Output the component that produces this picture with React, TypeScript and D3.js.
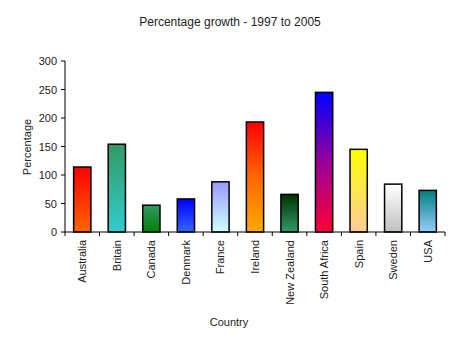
import React from "react";
import * as d3 from "d3";

const categories = ["Australia", "Britain", "Canada", "Denmark", "France", "Ireland", "New Zealand", "South Africa", "Spain", "Sweden", "USA"];
const growth = [114, 154, 47, 58, 88, 193, 66, 245, 145, 84, 73];
const yTicks = [0, 50, 100, 150, 200, 250, 300];
const gradientTops = ["#ff0000", "#339966", "#339966", "#0000ff", "#9999ff", "#ff0000", "#003300", "#0000ff", "#ffff00", "#ffffff", "#008080"];
const gradientMids = [null, null, null, null, null, "#ff6600", null, "#990099", null, null, null];
const gradientBottoms = ["#ff6600", "#33cccc", "#008000", "#3366ff", "#ccffff", "#ffaa00", "#339966", "#ff0033", "#ffcc99", "#c0c0c0", "#99ccff"];

const W = 460, H = 345;
const left = 65, right = 445, top = 61, bottom = 232;

export default function App() {
  const x = d3.scaleBand<string>().domain(categories).range([left, right]).paddingInner(0.5).paddingOuter(0.25);
  const y = d3.scaleLinear().domain([0, 300]).range([bottom, top]);
  const step = x.step();
  const font = "'Liberation Sans', Arial, sans-serif";
  return (
    <svg width={W} height={H} style={{ position: "absolute", left: 0, top: 0 }} fontFamily={font}>
      <defs>
        {categories.map((c, i) => (
          <linearGradient key={c} id={`g${i}`} x1="0" y1="0" x2="0" y2="1">
            <stop offset="0%" stopColor={gradientTops[i]} />
            {gradientMids[i] && <stop offset="50%" stopColor={gradientMids[i] as string} />}
            <stop offset="100%" stopColor={gradientBottoms[i]} />
          </linearGradient>
        ))}
      </defs>
      <rect width={W} height={H} fill="#fff" />
      <text x={230} y={26} textAnchor="middle" fontSize={12} fill="#222">Percentage growth - 1997 to 2005</text>
      {categories.map((c, i) => (
        <rect key={c} x={x(c)!} y={y(growth[i])} width={x.bandwidth()} height={bottom - y(growth[i])}
          fill={`url(#g${i})`} stroke="#000" strokeWidth={1.5} />
      ))}
      <line x1={left} x2={left} y1={top} y2={bottom} stroke="#000" />
      <line x1={left} x2={right} y1={bottom} y2={bottom} stroke="#000" />
      {yTicks.map(t => (
        <g key={t}>
          <line x1={left - 4} x2={left} y1={y(t)} y2={y(t)} stroke="#000" />
          <text x={left - 8} y={y(t) + 4} textAnchor="end" fontSize={11} fill="#222">{t}</text>
        </g>
      ))}
      {d3.range(categories.length + 1).map(i => (
        <line key={i} x1={left + i * step} x2={left + i * step} y1={bottom} y2={bottom + 4} stroke="#000" />
      ))}
      {categories.map(c => {
        const cx = x(c)! + x.bandwidth() / 2;
        return (
          <text key={c} transform={`translate(${cx + 4},240) rotate(-90)`} textAnchor="end" fontSize={11} fill="#222">{c}</text>
        );
      })}
      <text transform="translate(31,147) rotate(-90)" textAnchor="middle" fontSize={11} fill="#222">Percentage</text>
      <text x={229} y={326} textAnchor="middle" fontSize={11} fill="#222">Country</text>
    </svg>
  );
}
